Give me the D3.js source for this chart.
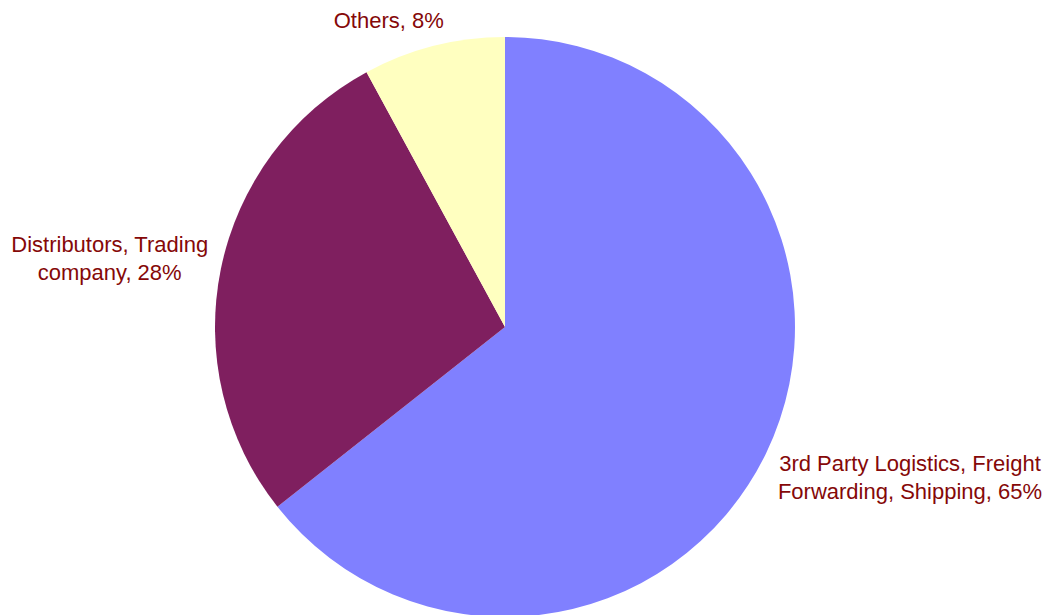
<!DOCTYPE html>
<html>
<head>
<meta charset="utf-8">
<script src="https://cdn.jsdelivr.net/npm/d3@7"></script>
<style>
  html, body { margin: 0; padding: 0; background: #ffffff; }
  svg { display: block; }
</style>
</head>
<body>
<svg id="chart" width="1049" height="615"></svg>
<script>
// Customer segments and their share of the total (percent)
const categories = [
  "3rd Party Logistics, Freight Forwarding, Shipping",
  "Distributors, Trading company",
  "Others"
];
const values = [65, 28, 8];

const sliceColors = ["#8080ff", "#7f1f5f", "#ffffc0"];
const labelColor = "#850808";

const width = 1049, height = 615;
const cx = 505, cy = 327, radius = 290;
const fontSize = 22, lineHeight = 27.5, wrapWidth = 270;

const svg = d3.select("#chart");
const g = svg.append("g").attr("transform", `translate(${cx},${cy})`);

const pie = d3.pie().sort(null).value(d => d.value);
const arc = d3.arc().innerRadius(0).outerRadius(radius);

const data = categories.map((c, i) => ({ name: c, value: values[i], color: sliceColors[i] }));
const arcs = pie(data);

g.selectAll("path.slice")
  .data(arcs)
  .join("path")
  .attr("class", "slice")
  .attr("d", arc)
  .attr("fill", d => d.data.color);

// Word-wrap a label into lines no wider than wrapWidth
const measure = svg.append("text")
  .attr("font-family", "'Liberation Sans', Arial, Helvetica, sans-serif")
  .attr("font-size", fontSize)
  .attr("visibility", "hidden");
function wrap(str) {
  const words = str.split(" ");
  const lines = [];
  let cur = "";
  for (const w of words) {
    const test = cur ? cur + " " + w : w;
    measure.text(test);
    if (cur && measure.node().getComputedTextLength() > wrapWidth) {
      lines.push(cur);
      cur = w;
    } else {
      cur = test;
    }
  }
  if (cur) lines.push(cur);
  return lines;
}
function textWidth(s) {
  measure.text(s);
  return measure.node().getComputedTextLength();
}

// Labels sit just outside the rim, pushed away from the pie along the mid-angle
const labelR = radius + 11;
arcs.forEach(a => {
  const mid = (a.startAngle + a.endAngle) / 2;
  const sx = Math.sin(mid), sy = -Math.cos(mid);
  const lines = wrap(`${a.data.name}, ${a.data.value}%`);
  const halfW = d3.max(lines, textWidth) / 2;
  const halfH = ((lines.length - 1) * lineHeight + fontSize * 0.72) / 2;
  const ax = sx * labelR, ay = sy * labelR;
  const kx = Math.max(-1, Math.min(1, sx * 3));
  const lx = ax + kx * (halfW + 2);
  const ly = ay + sy * 2 * halfH;

  const t = g.append("text")
    .attr("font-family", "'Liberation Sans', Arial, Helvetica, sans-serif")
    .attr("font-size", fontSize)
    .attr("fill", labelColor)
    .attr("text-anchor", "middle");
  lines.forEach((ln, i) => {
    t.append("tspan")
      .attr("x", lx)
      .attr("y", ly + (i - (lines.length - 1) / 2) * lineHeight + fontSize * 0.36)
      .text(ln);
  });
});
measure.remove();
</script>
</body>
</html>
